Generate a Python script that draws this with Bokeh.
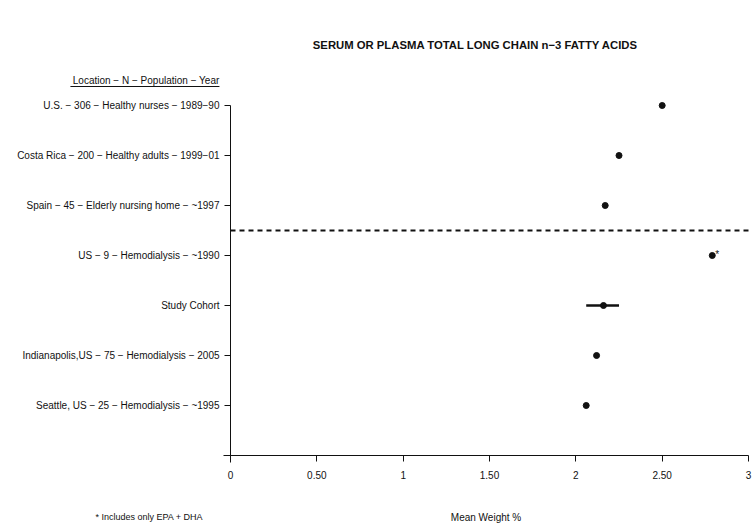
from bokeh.plotting import figure
from bokeh.models import Range1d, FixedTicker, Label, ColumnDataSource
from bokeh.core.properties import value
from bokeh.embed import file_html
from bokeh.resources import INLINE

# ---- data ----
studies = [
    "U.S. \u2212 306 \u2212 Healthy nurses \u2212 1989\u221290",
    "Costa Rica \u2212 200 \u2212 Healthy adults \u2212 1999\u221201",
    "Spain \u2212 45 \u2212 Elderly nursing home \u2212 ~1997",
    "US \u2212 9 \u2212 Hemodialysis \u2212 ~1990",
    "Study Cohort",
    "Indianapolis,US \u2212 75 \u2212 Hemodialysis \u2212 2005",
    "Seattle, US \u2212 25 \u2212 Hemodialysis \u2212 ~1995",
]
positions = [1, 2, 3, 4, 5, 6, 7]
means = [2.50, 2.25, 2.17, 2.79, 2.16, 2.12, 2.06]

ci_pos = [5]
ci_lower = [2.06]
ci_upper = [2.25]

mark_pos = [4]
mark_x = [2.79]
mark_text = ["*"]

x_ticks = [0, 0.5, 1, 1.5, 2, 2.5, 3]
x_tick_labels = ["0", "0.50", "1", "1.50", "2", "2.50", "3"]

divider_pos = 3.5

title_text = "SERUM OR PLASMA TOTAL LONG CHAIN n\u22123 FATTY ACIDS"
header_text = "Location \u2212 N \u2212 Population \u2212 Year"
footnote_text = "* Includes only EPA + DHA"
x_label = "Mean Weight %"

FONT = "Liberation Sans"
INK = "#111111"

# Frame covers the whole canvas; axes are pinned with fixed_location.
p = figure(width=752, height=527, output_backend="svg", toolbar_location=None,
           x_range=Range1d(-1.332, 3.023), y_range=Range1d(9.44, -1.1),
           min_border=0)
p.outline_line_color = None
p.xgrid.visible = False
p.ygrid.visible = False
p.background_fill_color = "white"
p.border_fill_color = "white"

# x axis
xa = p.xaxis[0]
xa.fixed_location = 8
xa.bounds = (-0.04, 3)
xa.ticker = FixedTicker(ticks=x_ticks)
xa.major_label_overrides = {t: l for t, l in zip(x_ticks, x_tick_labels)}
xa.minor_tick_line_color = None
xa.major_tick_in = 0
xa.major_tick_out = 6
xa.axis_line_color = INK
xa.major_tick_line_color = INK
xa.major_label_text_font = FONT
xa.major_label_text_font_size = "10px"
xa.major_label_text_color = INK
xa.major_label_standoff = 9
xa.axis_label = x_label
xa.axis_label_text_font = FONT
xa.axis_label_text_font_size = "10px"
xa.axis_label_text_font_style = "normal"
xa.axis_label_text_color = INK
xa.axis_label_standoff = 30

# y axis
ya = p.yaxis[0]
ya.fixed_location = 0
ya.bounds = (1, 8.13)
ya.ticker = FixedTicker(ticks=positions)
ya.major_label_overrides = {t: s for t, s in zip(positions, studies)}
ya.minor_tick_line_color = None
ya.major_tick_in = 0
ya.major_tick_out = 6
ya.axis_line_color = INK
ya.major_tick_line_color = INK
ya.major_label_text_font = FONT
ya.major_label_text_font_size = "10px"
ya.major_label_text_color = INK
ya.major_label_standoff = 5

# divider
p.segment(x0=[0], x1=[3.023], y0=[divider_pos], y1=[divider_pos], line_color=INK,
          line_width=2, line_dash="5 4")

# CI bar
ci_src = ColumnDataSource(dict(y=ci_pos, lo=ci_lower, hi=ci_upper))
p.segment(x0="lo", x1="hi", y0="y", y1="y", source=ci_src, line_color=INK, line_width=2.5)

# points
src = ColumnDataSource(dict(x=means, y=positions))
p.scatter(x="x", y="y", source=src, size=6, color=INK)

# asterisk
msrc = ColumnDataSource(dict(x=mark_x, y=mark_pos, t=mark_text))
p.text(x="x", y="y", text="t", source=msrc, x_offset=3, y_offset=-1,
       text_font=value(FONT), text_font_size="10px", text_color=INK,
       text_baseline="alphabetic", text_align="left")

# title
p.add_layout(Label(x=1.419, y=-0.22, text=title_text, text_align="center",
                   text_baseline="middle", text_font=FONT, text_font_size="11.3px",
                   text_font_style="bold", text_color=INK))

# header with underline
p.add_layout(Label(x=-0.064, y=0.50, text=header_text, text_align="right",
                   text_baseline="middle", text_font=FONT, text_font_size="10px",
                   text_color=INK))
p.segment(x0=[-0.927], x1=[-0.064], y0=[0.62], y1=[0.62], line_color=INK, line_width=1)

# footnote
p.add_layout(Label(x=-0.782, y=9.22, text=footnote_text, text_align="left",
                   text_baseline="middle", text_font=FONT, text_font_size="9px",
                   text_color=INK))

open("out.html", "w").write(file_html(p, INLINE))
